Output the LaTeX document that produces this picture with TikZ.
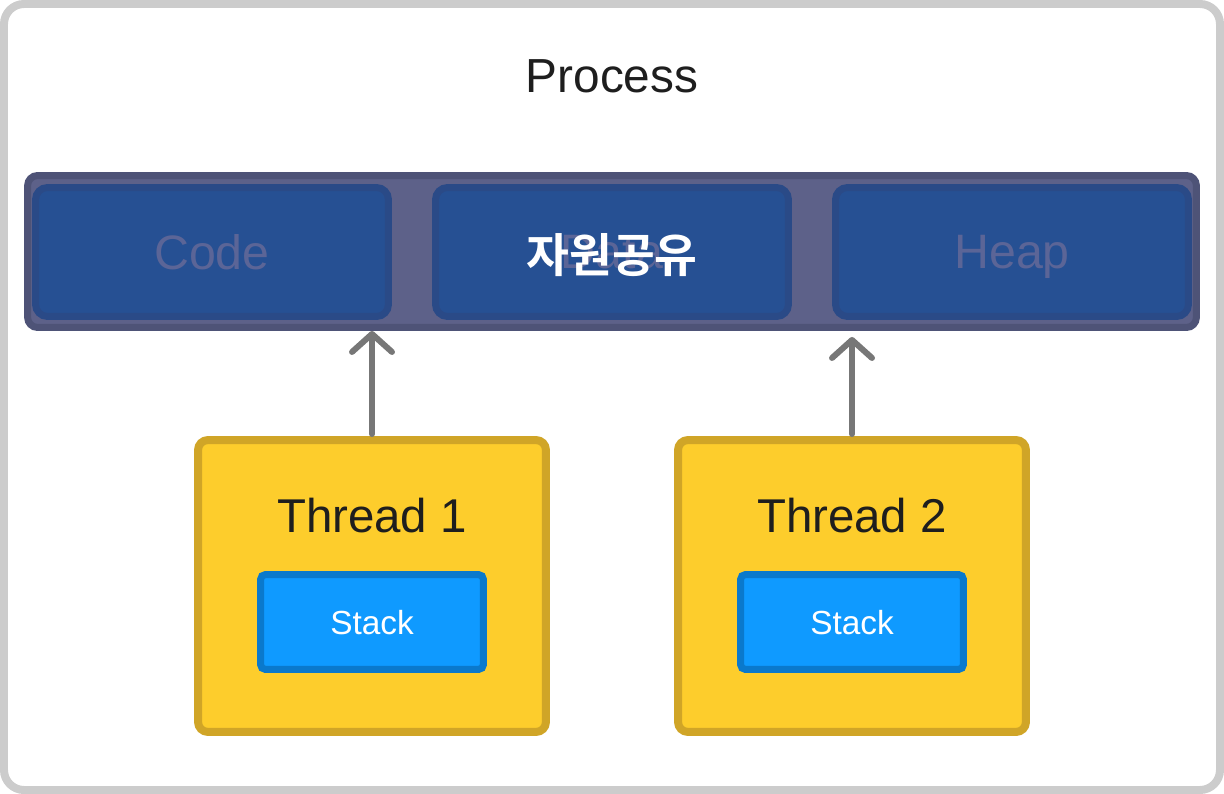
\documentclass[tikz,border=0pt]{standalone}
\usepackage{fontspec}
\setmainfont{Liberation Sans}
\newfontfamily\krfont{Noto Sans CJK KR}[BoldFont={Noto Sans CJK KR Bold}]
\usetikzlibrary{arrows.meta}
\definecolor{framegray}{HTML}{CCCCCC}
\definecolor{barfill}{HTML}{5D6189}
\definecolor{barline}{HTML}{4E5377}
\definecolor{boxfill}{HTML}{265093}
\definecolor{boxline}{HTML}{2A4A87}
\definecolor{fainttext}{HTML}{5B6597}
\definecolor{threadfill}{HTML}{FDCD2C}
\definecolor{threadline}{HTML}{D0A527}
\definecolor{stackfill}{HTML}{0F9AFF}
\definecolor{stackline}{HTML}{0A79CC}
\definecolor{arrowgray}{HTML}{777777}
\definecolor{inktext}{HTML}{1E1E1E}
\begin{document}
\begin{tikzpicture}[x=0.02cm,y=-0.02cm,
    segbox/.style={draw=boxline,fill=boxfill,line width=0.14cm,rounded corners=0.24cm,
      minimum width=7.06cm,minimum height=2.58cm,inner sep=0pt,text depth=0pt,
      text=fainttext,font=\fontsize{27.5}{32}\selectfont},
    threadbox/.style={draw=threadline,fill=threadfill,line width=0.16cm,rounded corners=0.2cm,
      minimum width=6.96cm,minimum height=5.84cm,inner sep=0pt},
    stackbox/.style={draw=stackline,fill=stackfill,line width=0.14cm,rounded corners=0.1cm,
      minimum width=4.46cm,minimum height=1.9cm,inner sep=0pt,text depth=0pt,
      text=white,font=\fontsize{19}{23}\selectfont},
    link/.style={draw=arrowgray,line width=0.12cm,line cap=round,
      -{Straight Barb[round,length=0.36cm,width=0.8cm]}}]
  \useasboundingbox (0,0) rectangle (1224,794);
  \path[draw=framegray,line width=0.16cm,rounded corners=0.4cm] (4,4) rectangle (1220,790);
  \node[text=inktext,font=\fontsize{27.2}{32}\selectfont] (title) at (612,76) {Process};
  % shared resources
  \node[draw=barline,fill=barfill,line width=0.14cm,rounded corners=0.2cm,
    minimum width=23.38cm,minimum height=3.04cm] (bar) at (612,251.5) {};
  \foreach \n/\x/\txt in {code/212/Code, data/612/Data, heap/1012/Heap} {
    \node[segbox] (\n) at (\x,252) {\txt};
  }
  \node[text=white,font=\krfont\bfseries\fontsize{26.5}{31}\selectfont] (share) at (612,255) {자원공유};
  % threads
  \foreach \i/\x in {1/372, 2/852} {
    \node[threadbox] (t\i) at (\x,586) {};
    \node[text=inktext,font=\fontsize{27}{32}\selectfont] (t\i label) at (\x,516) {Thread \i};
    \node[stackbox] (s\i) at (\x,622) {Stack};
  }
  \path[link,shorten <=0.04cm] (t1.north) -- (t1.north |- bar.south);
  \path[link,shorten <=0.04cm,shorten >=0.12cm] (t2.north) -- (t2.north |- bar.south);
\end{tikzpicture}
\end{document}
